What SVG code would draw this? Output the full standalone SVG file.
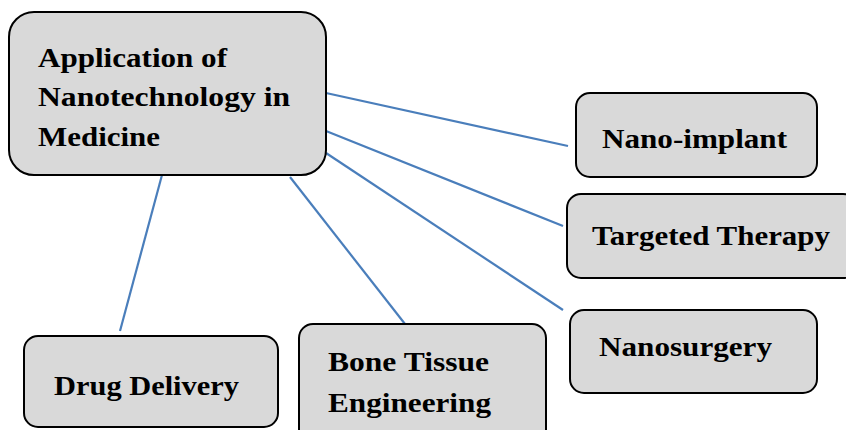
<svg xmlns="http://www.w3.org/2000/svg" width="846" height="430" viewBox="0 0 846 430">
<style>
.box{fill:#d9d9d9;stroke:#000;stroke-width:2}
.lbl{font-family:"Liberation Serif","DejaVu Serif",serif;font-weight:bold;font-size:28px;fill:#000}
.con{stroke:#4a7ebb;stroke-width:2.2;fill:none}
</style>
<rect width="846" height="430" fill="#fff"/>
<g id="connectors">
<line class="con" x1="326" y1="93" x2="568" y2="146"/>
<line class="con" x1="326" y1="131" x2="563" y2="226"/>
<line class="con" x1="326" y1="153" x2="563" y2="310"/>
<line class="con" x1="162" y1="175" x2="120" y2="331"/>
<line class="con" x1="290" y1="177" x2="405" y2="324"/>
</g>
<g id="main">
<rect class="box" x="9" y="12" width="317" height="163" rx="25"/>
<text class="lbl" x="38" y="67" textLength="189" lengthAdjust="spacingAndGlyphs">Application of</text>
<text class="lbl" x="38" y="106" textLength="252" lengthAdjust="spacingAndGlyphs">Nanotechnology in</text>
<text class="lbl" x="38" y="146" textLength="122" lengthAdjust="spacingAndGlyphs">Medicine</text>
</g>
<g id="nano-implant">
<rect class="box" x="576" y="93" width="241" height="84" rx="14"/>
<text class="lbl" x="602" y="148" textLength="185" lengthAdjust="spacingAndGlyphs">Nano-implant</text>
</g>
<g id="targeted-therapy">
<rect class="box" x="567" y="194" width="290" height="84" rx="14"/>
<text class="lbl" x="592" y="245" textLength="238" lengthAdjust="spacingAndGlyphs">Targeted Therapy</text>
</g>
<g id="nanosurgery">
<rect class="box" x="570" y="310" width="247" height="83" rx="14"/>
<text class="lbl" x="599" y="356" textLength="173" lengthAdjust="spacingAndGlyphs">Nanosurgery</text>
</g>
<g id="drug-delivery">
<rect class="box" x="24" y="336" width="254" height="91" rx="14"/>
<text class="lbl" x="54" y="395" textLength="185" lengthAdjust="spacingAndGlyphs">Drug Delivery</text>
</g>
<g id="bone-tissue">
<rect class="box" x="299" y="324" width="247" height="120" rx="14"/>
<text class="lbl" x="328" y="371" textLength="161" lengthAdjust="spacingAndGlyphs">Bone Tissue</text>
<text class="lbl" x="328" y="412" textLength="163" lengthAdjust="spacingAndGlyphs">Engineering</text>
</g>
</svg>
